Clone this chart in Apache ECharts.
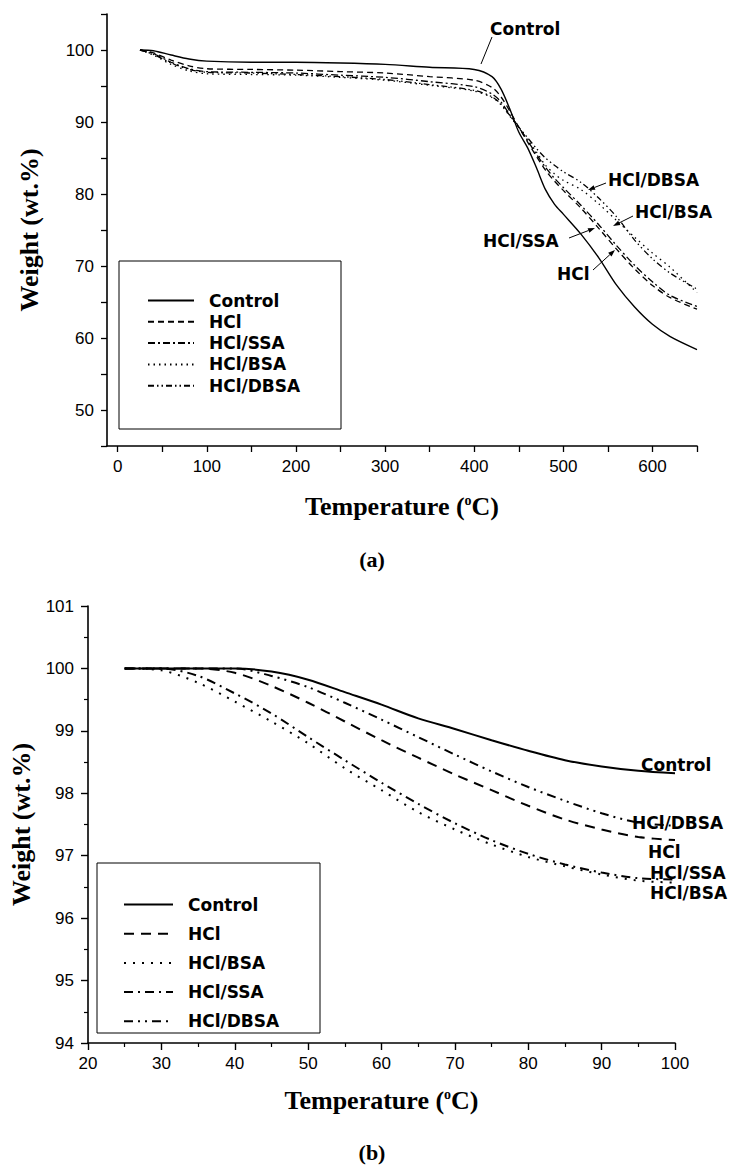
<!DOCTYPE html>
<html>
<head>
<meta charset="utf-8">
<script src="https://cdn.jsdelivr.net/npm/echarts@6/dist/echarts.min.js"></script>
<style>
  html, body { margin: 0; padding: 0; background: #fff; }
  #chart { width: 737px; height: 1167px; }
</style>
</head>
<body>
<div id="chart"></div>
<script>
// panel (a): full TGA run
const tempA = [25, 40, 60, 80, 100, 150, 200, 250, 300, 350, 400, 420, 430, 440, 450, 460, 470, 480, 490, 500, 520, 540, 560, 580, 600, 620, 650];
const controlA = [100, 99.9, 99.3, 98.75, 98.45, 98.3, 98.3, 98.2, 98.0, 97.6, 97.3, 96.3, 94.6, 91.8, 88.6, 86.4, 83.6, 80.6, 78.6, 77.2, 74.4, 71.1, 67.3, 64.3, 61.9, 60.2, 58.4];
const hclA = [100, 99.6, 98.6, 97.8, 97.4, 97.3, 97.2, 97.0, 96.8, 96.3, 95.8, 94.8, 93.5, 91.5, 89.3, 87.2, 85.2, 83.3, 81.8, 80.5, 78.0, 75.2, 72.3, 69.6, 67.3, 65.6, 64.0];
const ssaA = [100, 99.5, 98.3, 97.4, 97.0, 96.9, 96.8, 96.5, 96.2, 95.6, 94.9, 93.9, 92.8, 91.0, 89.3, 87.4, 85.5, 83.7, 82.2, 80.9, 78.4, 75.7, 72.8, 70.1, 67.8, 65.9, 64.4];
const bsaA = [100, 99.3, 98.0, 97.1, 96.7, 96.6, 96.5, 96.2, 95.8, 95.1, 94.3, 93.4, 92.4, 90.8, 89.2, 87.5, 85.8, 84.0, 82.8, 81.9, 80.6, 78.6, 76.3, 74.0, 71.8, 69.8, 66.3];
const dbsaA = [100, 99.4, 98.2, 97.3, 96.9, 96.8, 96.6, 96.3, 95.9, 95.2, 94.4, 93.5, 92.5, 90.9, 89.3, 87.8, 86.3, 85.0, 84.0, 83.1, 81.6, 79.4, 76.8, 73.6, 71.0, 69.0, 66.8];

// panel (b): low temperature part
const tempB = [25, 30, 35, 40, 45, 50, 55, 60, 65, 70, 75, 80, 85, 90, 95, 100];
const controlB = [100, 100, 100, 100, 99.95, 99.82, 99.62, 99.42, 99.2, 99.03, 98.85, 98.68, 98.53, 98.43, 98.36, 98.32];
const hclB = [100, 100, 100, 99.93, 99.72, 99.45, 99.15, 98.85, 98.57, 98.3, 98.05, 97.8, 97.58, 97.42, 97.3, 97.25];
const bsaB = [100, 99.97, 99.77, 99.47, 99.15, 98.8, 98.4, 98.05, 97.7, 97.42, 97.18, 96.98, 96.83, 96.7, 96.6, 96.57];
const ssaB = [100, 100, 99.88, 99.6, 99.28, 98.9, 98.53, 98.17, 97.83, 97.52, 97.25, 97.03, 96.86, 96.73, 96.64, 96.62];
const dbsaB = [100, 100, 100, 100, 99.88, 99.7, 99.45, 99.18, 98.9, 98.62, 98.35, 98.1, 97.88, 97.68, 97.53, 97.48];

// tick labels and tick positions of panel (a)
const xLabelsA = [0, 100, 200, 300, 400, 500, 600];
const xTicksA = [0, 50, 100, 150, 200, 250, 300, 350, 400, 450, 500, 550, 600, 650];
const yLabelsA = [50, 60, 70, 80, 90, 100];
const yTicksA = [45, 50, 55, 60, 65, 70, 75, 80, 85, 90, 95, 100, 105];

const myChart = echarts.init(document.getElementById('chart'), null, { renderer: 'svg' });

const tickFont = { color: '#000', fontFamily: '"Liberation Sans", Arial, sans-serif', fontSize: 17 };
const axisLine = { show: true, onZero: false, lineStyle: { color: '#000', width: 1.6 } };
const labelFont = 'bold 17px "DejaVu Sans", sans-serif';
const titleRich = {
  t: { fontFamily: '"Liberation Serif", serif', fontWeight: 'bold', fontSize: 26, color: '#000' },
  s: { fontFamily: '"Liberation Serif", serif', fontWeight: 'bold', fontSize: 14, color: '#000', verticalAlign: 'top', padding: [0, 0, 12, 0] }
};

function pairs(xs, ys) {
  return xs.map((x, i) => [x, ys[i]]);
}

function line(name, grid, xs, ys, dash, width) {
  return {
    name: name,
    type: 'line',
    xAxisIndex: grid,
    yAxisIndex: grid,
    symbol: 'none',
    smooth: 0.3,
    color: '#000',
    lineStyle: { color: '#000', width: width, type: dash },
    data: pairs(xs, ys)
  };
}

function arrow(x1, y1, x2, y2) {
  const a = Math.atan2(y2 - y1, x2 - x1);
  const L = 7, w = 2.5;
  const bx = x2 - L * Math.cos(a), by = y2 - L * Math.sin(a);
  return [
    { type: 'line', shape: { x1: x1, y1: y1, x2: bx, y2: by }, style: { stroke: '#000', lineWidth: 1 } },
    { type: 'polygon', shape: { points: [[x2, y2], [bx + w * Math.sin(a), by - w * Math.cos(a)], [bx - w * Math.sin(a), by + w * Math.cos(a)]] }, style: { fill: '#000' } }
  ];
}

function text(str, x, y, font, align) {
  return { type: 'text', x: x, y: y, style: { text: str, font: font, fill: '#000', align: align || 'left', verticalAlign: 'middle' } };
}

const legendBase = {
  orient: 'vertical',
  itemHeight: 14,
  selectedMode: false,
  itemStyle: { opacity: 0 },
  formatter: n => n.slice(2),
  textStyle: { fontFamily: '"DejaVu Sans", sans-serif', fontWeight: 'bold', fontSize: 17, color: '#000', padding: [0, 0, 0, 10] }
};

const option = {
  backgroundColor: '#fff',
  animation: false,
  grid: [
    { left: 107, top: 14, width: 590, height: 432, outerBoundsMode: 'none' },
    { left: 88, top: 606, width: 587, height: 437, outerBoundsMode: 'none' }
  ],
  xAxis: [
    {
      type: 'value', gridIndex: 0, min: -12, max: 650,
      name: '{t|Temperature (}{s|o}{t|C)}', nameLocation: 'middle', nameGap: 47,
      nameTextStyle: { rich: titleRich },
      axisLine: axisLine,
      axisTick: { show: true, length: 6, customValues: xTicksA, lineStyle: { color: '#000', width: 1.3 } },
      axisLabel: { customValues: xLabelsA, margin: 12, ...tickFont },
      splitLine: { show: false }
    },
    {
      type: 'value', gridIndex: 1, min: 20, max: 100, interval: 10,
      name: '{t|Temperature (}{s|o}{t|C)}', nameLocation: 'middle', nameGap: 44,
      nameTextStyle: { rich: titleRich },
      axisLine: axisLine,
      axisTick: { show: true, length: 7, lineStyle: { color: '#000', width: 1.4 } },
      minorTick: { show: true, splitNumber: 2, length: 4, lineStyle: { color: '#000', width: 1.2 } },
      axisLabel: { margin: 12, ...tickFont },
      splitLine: { show: false }
    }
  ],
  yAxis: [
    {
      type: 'value', gridIndex: 0, min: 45, max: 105,
      name: 'Weight (wt.%)', nameLocation: 'middle', nameGap: 65, nameRotate: 90,
      nameTextStyle: { fontFamily: '"Liberation Serif", serif', fontWeight: 'bold', fontSize: 26, color: '#000' },
      axisLine: axisLine,
      axisTick: { show: true, length: 6, customValues: yTicksA, lineStyle: { color: '#000', width: 1.3 } },
      axisLabel: { customValues: yLabelsA, margin: 13, ...tickFont },
      splitLine: { show: false }
    },
    {
      type: 'value', gridIndex: 1, min: 94, max: 101, interval: 1,
      name: 'Weight (wt.%)', nameLocation: 'middle', nameGap: 51, nameRotate: 90,
      nameTextStyle: { fontFamily: '"Liberation Serif", serif', fontWeight: 'bold', fontSize: 26, color: '#000' },
      axisLine: axisLine,
      axisTick: { show: true, length: 7, lineStyle: { color: '#000', width: 1.4 } },
      minorTick: { show: true, splitNumber: 2, length: 4, lineStyle: { color: '#000', width: 1.2 } },
      axisLabel: { margin: 14, ...tickFont },
      splitLine: { show: false }
    }
  ],
  legend: [
    Object.assign({}, legendBase, {
      left: 142, top: 287, itemWidth: 46, itemGap: 4.3,
      data: ['a:Control', 'a:HCl', 'a:HCl/SSA', 'a:HCl/BSA', 'a:HCl/DBSA']
    }),
    Object.assign({}, legendBase, {
      left: 118, top: 891, itemWidth: 49, itemGap: 12.2,
      data: ['b:Control', 'b:HCl', 'b:HCl/BSA', 'b:HCl/SSA', 'b:HCl/DBSA']
    })
  ],
  series: [
    line('a:Control', 0, tempA, controlA, 'solid', 1.4),
    line('a:HCl', 0, tempA, hclA, [6, 4], 1.3),
    line('a:HCl/SSA', 0, tempA, ssaA, [7, 3, 2, 3], 1.3),
    line('a:HCl/BSA', 0, tempA, bsaA, [1.5, 4], 1.3),
    line('a:HCl/DBSA', 0, tempA, dbsaA, [6, 3, 1.5, 3, 1.5, 3], 1.3),
    line('b:Control', 1, tempB, controlB, 'solid', 2),
    line('b:HCl', 1, tempB, hclB, [10, 7], 2),
    line('b:HCl/BSA', 1, tempB, bsaB, [2, 7], 2),
    line('b:HCl/SSA', 1, tempB, ssaB, [9, 5, 2, 5], 2),
    line('b:HCl/DBSA', 1, tempB, dbsaB, [9, 5, 2, 5, 2, 5], 2)
  ],
  graphic: [
    // legend frames
    { type: 'rect', shape: { x: 119, y: 261, width: 222, height: 168 }, style: { fill: 'none', stroke: '#000', lineWidth: 1 } },
    { type: 'rect', shape: { x: 97, y: 863, width: 223, height: 170 }, style: { fill: 'none', stroke: '#000', lineWidth: 1 } },
    // panel (a) annotations
    text('Control', 490, 29, labelFont),
    { type: 'line', shape: { x1: 492, y1: 37, x2: 481, y2: 64 }, style: { stroke: '#000', lineWidth: 1 } },
    text('HCl/DBSA', 608, 180, labelFont),
    ...arrow(606, 183, 588, 190),
    text('HCl/BSA', 635, 212, labelFont),
    ...arrow(633, 216, 613, 226),
    text('HCl/SSA', 483, 241, labelFont),
    ...arrow(569, 238, 595, 228),
    text('HCl', 557, 274, labelFont),
    ...arrow(593, 270, 615, 250),
    // panel (b) end labels
    text('Control', 641, 765, labelFont),
    text('HCl/DBSA', 632, 823, labelFont),
    text('HCl', 648, 852, labelFont),
    text('HCl/SSA', 650, 873, labelFont),
    text('HCl/BSA', 650, 893, labelFont),
    // panel captions
    text('(a)', 372, 559, 'bold 22px "Liberation Serif", serif', 'center'),
    text('(b)', 372, 1152, 'bold 22px "Liberation Serif", serif', 'center')
  ]
};

myChart.setOption(option);
</script>
</body>
</html>
